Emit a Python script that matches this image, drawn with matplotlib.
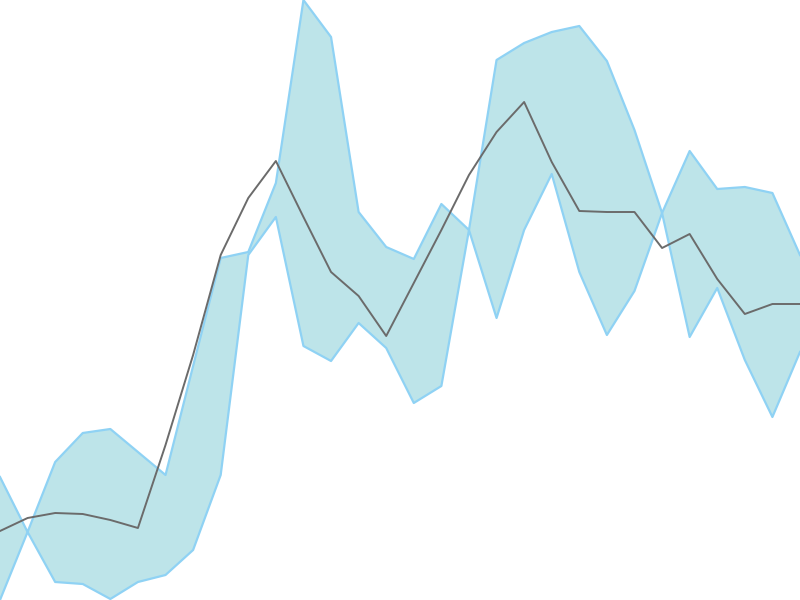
import numpy as np
import matplotlib
matplotlib.use('Agg')
from matplotlib import pyplot as plt

# values (0 = bottom edge, 600 = top edge)
upper = [123, 68, 138, 167, 171, 148, 125, 234, 342, 348, 417, 600, 563, 388, 353,
         341, 396, 370, 540, 557, 568, 574, 539, 470, 387, 449, 411, 413, 407, 345]
lower = [0, 68, 18, 16, 1, 18, 25, 50, 125, 345, 383, 254, 239, 277, 252,
         197, 214, 370, 282, 370, 426, 328, 265, 309, 387, 263, 312, 240, 183, 248]
mid = [69, 82, 87, 86, 80, 72, 155, 245, 345, 402, 439, 383, 328, 304, 264,
       317, 370, 425, 468, 498, 438, 389, 388, 388, 352, 366, 321, 286, 296, 296]
x = np.arange(len(mid))

fig = plt.figure(figsize=(8, 6), dpi=100)
ax = fig.add_axes([0, 0, 1, 1])
ax.fill_between(x, lower, upper, color='#bde4e9', linewidth=0)
ax.plot(x, upper, color='#8fd2f4', lw=1.6)
ax.plot(x, lower, color='#8fd2f4', lw=1.6)
ax.plot(x, mid, color='#6b6b6b', lw=1.4)
ax.set_xlim(0, len(mid) - 1)
ax.set_ylim(0, 600)
ax.axis('off')
fig.savefig('out.png', dpi=100)
